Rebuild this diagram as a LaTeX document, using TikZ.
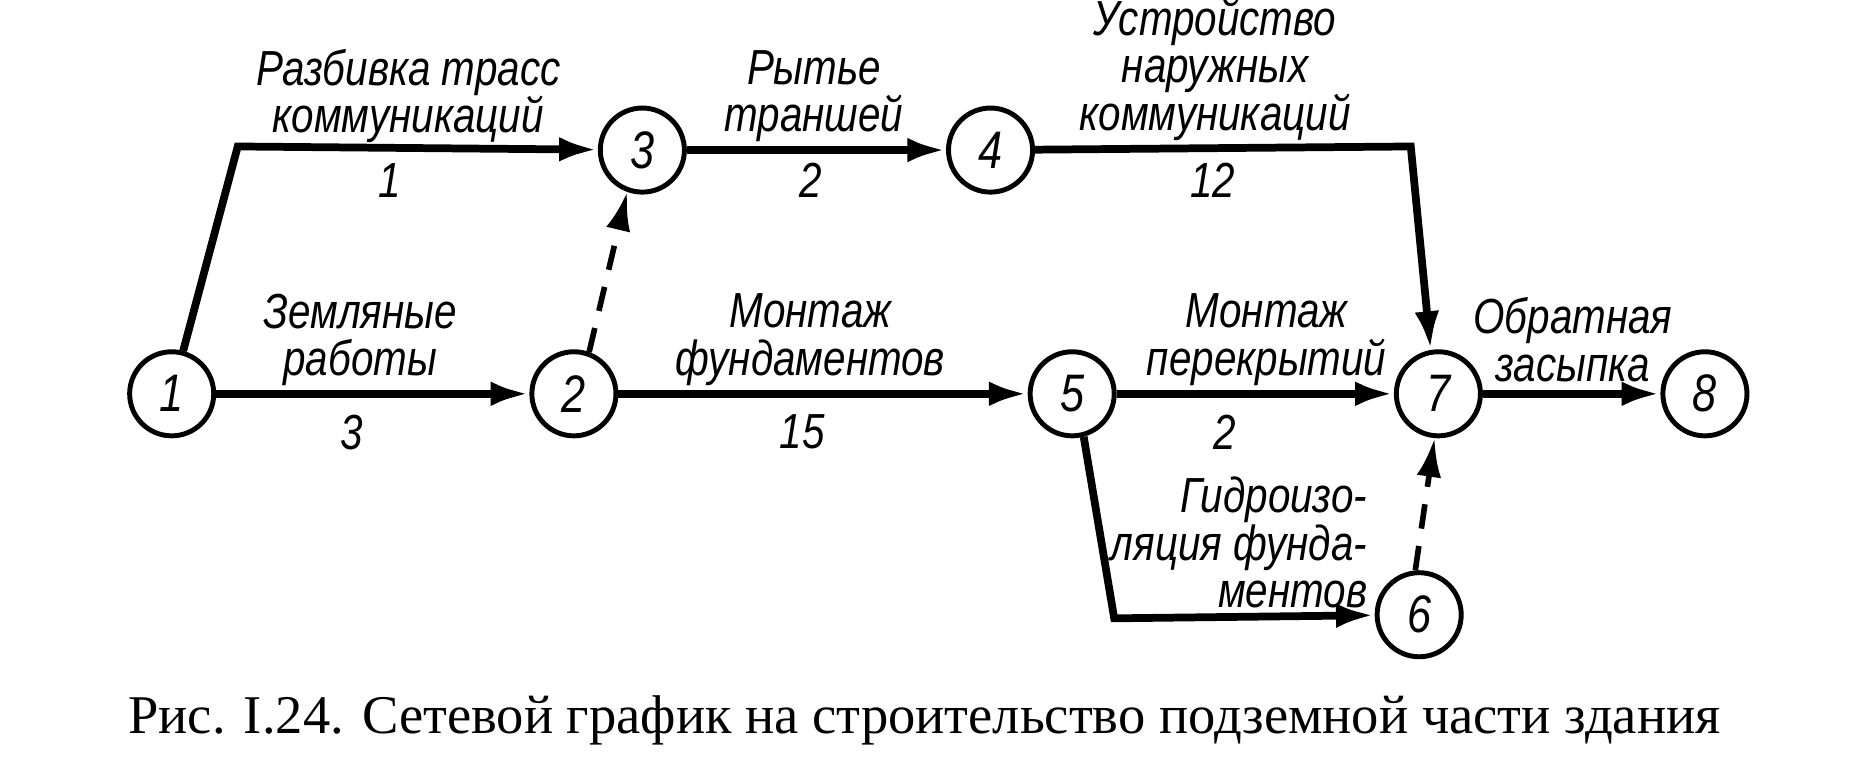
\documentclass[tikz,border=0pt]{standalone}
\usepackage{fontspec}
\setmainfont{Liberation Serif}
\newfontfamily\lbl[FakeStretch=0.82]{Liberation Sans}
\usetikzlibrary{arrows.meta}
\begin{document}
\begin{tikzpicture}[x=0.012cm,y=-0.012cm,
  ev/.style={circle,draw,line width=1.4pt,minimum size=0.84cm,inner sep=0pt,font=\lbl\itshape\fontsize{15}{15}\selectfont},
  act/.style={line width=2.2pt,-{Latex[length=11pt,width=7pt]}},
  dum/.style={line width=1.6pt,dashed,dash pattern=on 7pt off 5pt,-{Latex[length=11pt,width=7pt]}},
  tx/.style={font=\lbl\itshape\fontsize{14}{13.5}\selectfont,align=center,inner sep=1pt}]
\useasboundingbox (0,0) rectangle (1560,645);
\node[ev] (n1) at (143,328) {1};
\node[ev] (n2) at (478,328) {2};
\node[ev] (n3) at (535,125) {3};
\node[ev] (n4) at (825,125) {4};
\node[ev] (n5) at (893,328) {5};
\node[ev] (n7) at (1198,328) {7};
\node[ev] (n8) at (1420,328) {8};
\node[ev] (n6) at (1182,512) {6};
\coordinate (c13) at (198,122);
\coordinate (c47) at (1175,122);
\coordinate (c56) at (928,515);
\draw[act] (n1.75) -- (c13) -- (n3);
\draw[act] (n1) -- (n2);
\draw[dum] (n2.70) -- (n3.250);
\draw[act] (n3) -- (n4);
\draw[act] (n4) -- (c47) -- (n7.100);
\draw[act] (n2) -- (n5);
\draw[act] (n5) -- (n7);
\draw[act] (n7) -- (n8);
\draw[act] (n5.285) -- (c56) -- (n6);
\draw[dum] (n6.95) -- (n7.265);
\node[tx] at (340,80) {Разбивка трасс\\коммуникаций};
\node[tx] at (325,150) {1};
\node[tx] at (678,80) {Рытье\\траншей};
\node[tx] at (675,150) {2};
\node[tx] at (1012,58) {Устройство\\наружных\\коммуникаций};
\node[tx] at (1010,150) {12};
\node[tx] at (300,283) {Земляные\\работы};
\node[tx] at (293,360) {3};
\node[tx] at (675,283) {Монтаж\\фундаментов};
\node[tx] at (668,360) {15};
\node[tx] at (1055,283) {Монтаж\\перекрытий};
\node[tx] at (1020,360) {2};
\node[tx] at (1310,283) {Обратная\\засыпка};
\node[tx,align=right] at (1032,452) {Гидроизо-\\ляция фунда-\\ментов};
\node[font=\fontsize{15.5}{15.5}\selectfont] at (770,600) {Рис. I.24. Сетевой график на строительство подземной части здания};
\end{tikzpicture}
\end{document}
